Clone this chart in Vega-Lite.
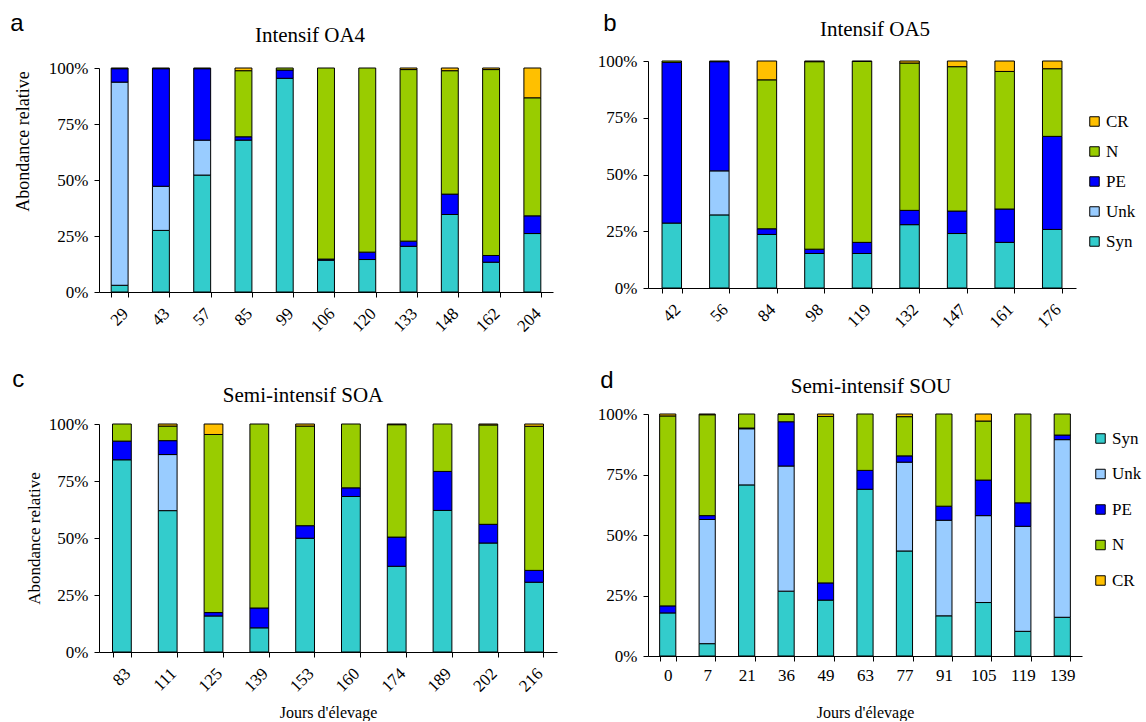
{
  "$schema": "https://vega.github.io/schema/vega-lite/v6.json",
  "background": "white",
  "padding": {"left": 10, "top": 12, "right": 0, "bottom": 0},
  "datasets": {
    "d": [
      {"panel": "a", "day": 29, "group": "Syn", "value": 3},
      {"panel": "a", "day": 29, "group": "Unk", "value": 90.7},
      {"panel": "a", "day": 29, "group": "PE", "value": 6},
      {"panel": "a", "day": 29, "group": "N", "value": 0.3},
      {"panel": "a", "day": 43, "group": "Syn", "value": 27.5},
      {"panel": "a", "day": 43, "group": "Unk", "value": 19.7},
      {"panel": "a", "day": 43, "group": "PE", "value": 52.5},
      {"panel": "a", "day": 43, "group": "N", "value": 0.3},
      {"panel": "a", "day": 57, "group": "Syn", "value": 52.2},
      {"panel": "a", "day": 57, "group": "Unk", "value": 15.6},
      {"panel": "a", "day": 57, "group": "PE", "value": 31.9},
      {"panel": "a", "day": 57, "group": "N", "value": 0.3},
      {"panel": "a", "day": 85, "group": "Syn", "value": 67.8},
      {"panel": "a", "day": 85, "group": "PE", "value": 1.5},
      {"panel": "a", "day": 85, "group": "N", "value": 29.5},
      {"panel": "a", "day": 85, "group": "CR", "value": 1.2},
      {"panel": "a", "day": 99, "group": "Syn", "value": 95.4},
      {"panel": "a", "day": 99, "group": "PE", "value": 3.7},
      {"panel": "a", "day": 99, "group": "N", "value": 0.9},
      {"panel": "a", "day": 106, "group": "Syn", "value": 14.2},
      {"panel": "a", "day": 106, "group": "PE", "value": 0.5},
      {"panel": "a", "day": 106, "group": "N", "value": 85.3},
      {"panel": "a", "day": 120, "group": "Syn", "value": 14.5},
      {"panel": "a", "day": 120, "group": "PE", "value": 3.3},
      {"panel": "a", "day": 120, "group": "N", "value": 82.2},
      {"panel": "a", "day": 133, "group": "Syn", "value": 20.4},
      {"panel": "a", "day": 133, "group": "PE", "value": 2.3},
      {"panel": "a", "day": 133, "group": "N", "value": 76.6},
      {"panel": "a", "day": 133, "group": "CR", "value": 0.7},
      {"panel": "a", "day": 148, "group": "Syn", "value": 34.6},
      {"panel": "a", "day": 148, "group": "PE", "value": 9.1},
      {"panel": "a", "day": 148, "group": "N", "value": 55.1},
      {"panel": "a", "day": 148, "group": "CR", "value": 1.2},
      {"panel": "a", "day": 162, "group": "Syn", "value": 13.3},
      {"panel": "a", "day": 162, "group": "PE", "value": 3.0},
      {"panel": "a", "day": 162, "group": "N", "value": 83.0},
      {"panel": "a", "day": 162, "group": "CR", "value": 0.7},
      {"panel": "a", "day": 204, "group": "Syn", "value": 26.1},
      {"panel": "a", "day": 204, "group": "PE", "value": 7.9},
      {"panel": "a", "day": 204, "group": "N", "value": 52.7},
      {"panel": "a", "day": 204, "group": "CR", "value": 13.3},

      {"panel": "b", "day": 42, "group": "Syn", "value": 28.6},
      {"panel": "b", "day": 42, "group": "PE", "value": 70.8},
      {"panel": "b", "day": 42, "group": "N", "value": 0.6},
      {"panel": "b", "day": 56, "group": "Syn", "value": 32.2},
      {"panel": "b", "day": 56, "group": "Unk", "value": 19.4},
      {"panel": "b", "day": 56, "group": "PE", "value": 48.1},
      {"panel": "b", "day": 56, "group": "N", "value": 0.3},
      {"panel": "b", "day": 84, "group": "Syn", "value": 23.6},
      {"panel": "b", "day": 84, "group": "PE", "value": 2.5},
      {"panel": "b", "day": 84, "group": "N", "value": 65.6},
      {"panel": "b", "day": 84, "group": "CR", "value": 8.3},
      {"panel": "b", "day": 98, "group": "Syn", "value": 15.2},
      {"panel": "b", "day": 98, "group": "PE", "value": 1.9},
      {"panel": "b", "day": 98, "group": "N", "value": 82.6},
      {"panel": "b", "day": 98, "group": "CR", "value": 0.3},
      {"panel": "b", "day": 119, "group": "Syn", "value": 15.2},
      {"panel": "b", "day": 119, "group": "PE", "value": 4.9},
      {"panel": "b", "day": 119, "group": "N", "value": 79.7},
      {"panel": "b", "day": 119, "group": "CR", "value": 0.2},
      {"panel": "b", "day": 132, "group": "Syn", "value": 27.9},
      {"panel": "b", "day": 132, "group": "PE", "value": 6.3},
      {"panel": "b", "day": 132, "group": "N", "value": 64.9},
      {"panel": "b", "day": 132, "group": "CR", "value": 0.9},
      {"panel": "b", "day": 147, "group": "Syn", "value": 24.0},
      {"panel": "b", "day": 147, "group": "PE", "value": 9.9},
      {"panel": "b", "day": 147, "group": "N", "value": 63.6},
      {"panel": "b", "day": 147, "group": "CR", "value": 2.5},
      {"panel": "b", "day": 161, "group": "Syn", "value": 20.1},
      {"panel": "b", "day": 161, "group": "PE", "value": 14.7},
      {"panel": "b", "day": 161, "group": "N", "value": 60.6},
      {"panel": "b", "day": 161, "group": "CR", "value": 4.6},
      {"panel": "b", "day": 176, "group": "Syn", "value": 25.8},
      {"panel": "b", "day": 176, "group": "PE", "value": 41.0},
      {"panel": "b", "day": 176, "group": "N", "value": 29.8},
      {"panel": "b", "day": 176, "group": "CR", "value": 3.4},

      {"panel": "c", "day": 83, "group": "Syn", "value": 84.3},
      {"panel": "c", "day": 83, "group": "PE", "value": 8.2},
      {"panel": "c", "day": 83, "group": "N", "value": 7.5},
      {"panel": "c", "day": 111, "group": "Syn", "value": 62.0},
      {"panel": "c", "day": 111, "group": "Unk", "value": 24.6},
      {"panel": "c", "day": 111, "group": "PE", "value": 6.1},
      {"panel": "c", "day": 111, "group": "N", "value": 6.4},
      {"panel": "c", "day": 111, "group": "CR", "value": 0.9},
      {"panel": "c", "day": 125, "group": "Syn", "value": 15.8},
      {"panel": "c", "day": 125, "group": "PE", "value": 1.5},
      {"panel": "c", "day": 125, "group": "N", "value": 78.1},
      {"panel": "c", "day": 125, "group": "CR", "value": 4.6},
      {"panel": "c", "day": 139, "group": "Syn", "value": 10.6},
      {"panel": "c", "day": 139, "group": "PE", "value": 8.7},
      {"panel": "c", "day": 139, "group": "N", "value": 80.7},
      {"panel": "c", "day": 153, "group": "Syn", "value": 49.9},
      {"panel": "c", "day": 153, "group": "PE", "value": 5.5},
      {"panel": "c", "day": 153, "group": "N", "value": 43.7},
      {"panel": "c", "day": 153, "group": "CR", "value": 0.9},
      {"panel": "c", "day": 160, "group": "Syn", "value": 68.2},
      {"panel": "c", "day": 160, "group": "PE", "value": 3.8},
      {"panel": "c", "day": 160, "group": "N", "value": 28.0},
      {"panel": "c", "day": 174, "group": "Syn", "value": 37.6},
      {"panel": "c", "day": 174, "group": "PE", "value": 12.8},
      {"panel": "c", "day": 174, "group": "N", "value": 49.3},
      {"panel": "c", "day": 174, "group": "CR", "value": 0.3},
      {"panel": "c", "day": 189, "group": "Syn", "value": 62.1},
      {"panel": "c", "day": 189, "group": "PE", "value": 17.1},
      {"panel": "c", "day": 189, "group": "N", "value": 20.8},
      {"panel": "c", "day": 202, "group": "Syn", "value": 47.8},
      {"panel": "c", "day": 202, "group": "PE", "value": 8.2},
      {"panel": "c", "day": 202, "group": "N", "value": 43.6},
      {"panel": "c", "day": 202, "group": "CR", "value": 0.4},
      {"panel": "c", "day": 216, "group": "Syn", "value": 30.6},
      {"panel": "c", "day": 216, "group": "PE", "value": 5.2},
      {"panel": "c", "day": 216, "group": "N", "value": 63.2},
      {"panel": "c", "day": 216, "group": "CR", "value": 1.0},

      {"panel": "d", "day": 0, "group": "Syn", "value": 17.8},
      {"panel": "d", "day": 0, "group": "PE", "value": 2.9},
      {"panel": "d", "day": 0, "group": "N", "value": 78.5},
      {"panel": "d", "day": 0, "group": "CR", "value": 0.8},
      {"panel": "d", "day": 7, "group": "Syn", "value": 5.1},
      {"panel": "d", "day": 7, "group": "Unk", "value": 51.3},
      {"panel": "d", "day": 7, "group": "PE", "value": 1.6},
      {"panel": "d", "day": 7, "group": "N", "value": 41.7},
      {"panel": "d", "day": 7, "group": "CR", "value": 0.3},
      {"panel": "d", "day": 21, "group": "Syn", "value": 70.7},
      {"panel": "d", "day": 21, "group": "Unk", "value": 23.2},
      {"panel": "d", "day": 21, "group": "PE", "value": 0.3},
      {"panel": "d", "day": 21, "group": "N", "value": 5.8},
      {"panel": "d", "day": 36, "group": "Syn", "value": 26.8},
      {"panel": "d", "day": 36, "group": "Unk", "value": 51.7},
      {"panel": "d", "day": 36, "group": "PE", "value": 18.3},
      {"panel": "d", "day": 36, "group": "N", "value": 3.1},
      {"panel": "d", "day": 36, "group": "CR", "value": 0.1},
      {"panel": "d", "day": 49, "group": "Syn", "value": 23.1},
      {"panel": "d", "day": 49, "group": "PE", "value": 7.1},
      {"panel": "d", "day": 49, "group": "N", "value": 68.8},
      {"panel": "d", "day": 49, "group": "CR", "value": 1.0},
      {"panel": "d", "day": 63, "group": "Syn", "value": 68.9},
      {"panel": "d", "day": 63, "group": "PE", "value": 7.8},
      {"panel": "d", "day": 63, "group": "N", "value": 23.3},
      {"panel": "d", "day": 77, "group": "Syn", "value": 43.4},
      {"panel": "d", "day": 77, "group": "Unk", "value": 36.7},
      {"panel": "d", "day": 77, "group": "PE", "value": 2.6},
      {"panel": "d", "day": 77, "group": "N", "value": 16.2},
      {"panel": "d", "day": 77, "group": "CR", "value": 1.1},
      {"panel": "d", "day": 91, "group": "Syn", "value": 16.6},
      {"panel": "d", "day": 91, "group": "Unk", "value": 39.5},
      {"panel": "d", "day": 91, "group": "PE", "value": 5.8},
      {"panel": "d", "day": 91, "group": "N", "value": 38.1},
      {"panel": "d", "day": 105, "group": "Syn", "value": 22.1},
      {"panel": "d", "day": 105, "group": "Unk", "value": 35.9},
      {"panel": "d", "day": 105, "group": "PE", "value": 14.7},
      {"panel": "d", "day": 105, "group": "N", "value": 24.4},
      {"panel": "d", "day": 105, "group": "CR", "value": 2.9},
      {"panel": "d", "day": 119, "group": "Syn", "value": 10.2},
      {"panel": "d", "day": 119, "group": "Unk", "value": 43.4},
      {"panel": "d", "day": 119, "group": "PE", "value": 9.7},
      {"panel": "d", "day": 119, "group": "N", "value": 36.7},
      {"panel": "d", "day": 139, "group": "Syn", "value": 16.0},
      {"panel": "d", "day": 139, "group": "Unk", "value": 73.4},
      {"panel": "d", "day": 139, "group": "PE", "value": 1.9},
      {"panel": "d", "day": 139, "group": "N", "value": 8.7}
    ]
  },
  "config": {
    "view": {"stroke": null},
    "font": "Liberation Serif",
    "title": {"font": "Liberation Serif", "fontSize": 21, "fontWeight": "normal", "color": "black"},
    "axis": {
      "domainColor": "black", "tickColor": "black", "labelColor": "black", "titleColor": "black",
      "labelFont": "Liberation Serif", "titleFont": "Liberation Serif",
      "labelFontSize": 17, "titleFontSize": 17, "titleFontWeight": "normal",
      "grid": false, "tickSize": 5, "labelPadding": 6
    },
    "legend": {
      "labelFont": "Liberation Serif", "labelFontSize": 17, "labelColor": "black",
      "symbolType": "square", "symbolSize": 90, "symbolStrokeColor": "black", "symbolStrokeWidth": 1,
      "padding": 0, "labelOffset": 3
    },
    "bar": {"stroke": "black", "strokeWidth": 1}
  },
  "columns": 2,
  "align": "none",
  "spacing": {"row": 33, "column": 40},
  "resolve": {"scale": {"color": "independent"}, "legend": {"color": "independent"}},
  "concat": [
    {
      "title": {"text": "a", "anchor": "start", "font": "Liberation Sans", "fontSize": 24, "offset": -11, "dx": -4},
      "resolve": {"scale": {"color": "independent"}, "legend": {"color": "independent"}},
      "vconcat": [
        {
          "width": 454, "height": 224,
          "title": {"text": "Intensif OA4", "dx": -16, "offset": 13},
          "data": {"name": "d"},
          "transform": [{"calculate": "indexof(['Syn','Unk','PE','N','CR'], datum.group)", "as": "rank"}, {"filter": "datum.panel == 'a'"}],
          "mark": {"type": "bar"},
          "encoding": {
            "x": {"field": "day", "type": "ordinal", "scale": {"paddingInner": 0.59, "paddingOuter": 0.295},
                  "axis": {"title": null, "labelAngle": -45, "tickBand": "extent", "labelPadding": 8}},
            "y": {"field": "value", "type": "quantitative", "stack": "normalize", "scale": {"domain": [0, 1]},
                  "axis": {"title": "Abondance relative", "titleFontSize": 18, "titleY": 73, "values": [0, 0.25, 0.5, 0.75, 1], "format": ".0%", "titlePadding": 16}},
            "order": {"field": "rank", "type": "quantitative", "sort": "ascending"},
            "color": {"field": "group", "type": "nominal",
                      "scale": {"domain": ["Syn", "Unk", "PE", "N", "CR"], "range": ["#33CCCC", "#99CCFF", "#0000FF", "#99CC00", "#FFC000"]},
                      "legend": null}
          }
        }
      ]
    },
    {
      "title": {"text": "b", "anchor": "start", "font": "Liberation Sans", "fontSize": 24, "offset": -17, "dx": 6},
      "resolve": {"scale": {"color": "independent"}, "legend": {"color": "independent"}},
      "vconcat": [
        {
          "width": 428, "height": 220,
          "title": {"text": "Intensif OA5", "dx": 13, "offset": 12},
          "data": {"name": "d"},
          "transform": [{"calculate": "indexof(['Syn','Unk','PE','N','CR'], datum.group)", "as": "rank"}, {"filter": "datum.panel == 'b'"}],
          "mark": {"type": "bar"},
          "encoding": {
            "x": {"field": "day", "type": "ordinal", "scale": {"paddingInner": 0.59, "paddingOuter": 0.295},
                  "axis": {"title": null, "labelAngle": -45, "tickBand": "extent", "labelPadding": 8}},
            "y": {"field": "value", "type": "quantitative", "stack": "normalize", "scale": {"domain": [0, 1], "range": [220, -7]},
                  "axis": {"title": null, "values": [0, 0.25, 0.5, 0.75, 1], "format": ".0%"}},
            "order": {"field": "rank", "type": "quantitative", "sort": "ascending"},
            "color": {"field": "group", "type": "nominal",
                      "scale": {"domain": ["CR", "N", "PE", "Unk", "Syn"], "range": ["#FFC000", "#99CC00", "#0000FF", "#99CCFF", "#33CCCC"]},
                      "legend": {"title": null, "orient": "none", "legendX": 438, "legendY": 45, "rowPadding": 12}}
          }
        }
      ]
    },
    {
      "title": {"text": "c", "anchor": "start", "font": "Liberation Sans", "fontSize": 24, "offset": -7.5, "dx": -13},
      "resolve": {"scale": {"color": "independent"}, "legend": {"color": "independent"}},
      "vconcat": [
        {
          "width": 458, "height": 228,
          "title": {"text": "Semi-intensif SOA", "dx": -25, "offset": 9.5},
          "data": {"name": "d"},
          "transform": [{"calculate": "indexof(['Syn','Unk','PE','N','CR'], datum.group)", "as": "rank"}, {"filter": "datum.panel == 'c'"}],
          "mark": {"type": "bar"},
          "encoding": {
            "x": {"field": "day", "type": "ordinal", "scale": {"paddingInner": 0.59, "paddingOuter": 0.295},
                  "axis": {"title": "Jours d'élevage", "titleFontSize": 16, "labelAngle": -45, "tickBand": "extent", "labelPadding": 8, "titlePadding": 10}},
            "y": {"field": "value", "type": "quantitative", "stack": "normalize", "scale": {"domain": [0, 1]},
                  "axis": {"title": "Abondance relative", "titleFontSize": 17, "values": [0, 0.25, 0.5, 0.75, 1], "format": ".0%", "titlePadding": 5}},
            "order": {"field": "rank", "type": "quantitative", "sort": "ascending"},
            "color": {"field": "group", "type": "nominal",
                      "scale": {"domain": ["Syn", "Unk", "PE", "N", "CR"], "range": ["#33CCCC", "#99CCFF", "#0000FF", "#99CC00", "#FFC000"]},
                      "legend": null}
          }
        }
      ]
    },
    {
      "title": {"text": "d", "anchor": "start", "font": "Liberation Sans", "fontSize": 24, "offset": -17, "dx": 3},
      "resolve": {"scale": {"color": "independent"}, "legend": {"color": "independent"}},
      "vconcat": [
        {
          "width": 434, "height": 242,
          "title": {"text": "Semi-intensif SOU", "dx": 6, "offset": 8.5},
          "data": {"name": "d"},
          "transform": [{"calculate": "indexof(['Syn','Unk','PE','N','CR'], datum.group)", "as": "rank"}, {"filter": "datum.panel == 'd'"}],
          "mark": {"type": "bar"},
          "encoding": {
            "x": {"field": "day", "type": "ordinal", "scale": {"paddingInner": 0.59, "paddingOuter": 0.295},
                  "axis": {"title": "Jours d'élevage", "titleFontSize": 16, "labelAngle": 0, "tickBand": "extent", "labelPadding": 6, "titlePadding": 21}},
            "y": {"field": "value", "type": "quantitative", "stack": "normalize", "scale": {"domain": [0, 1]},
                  "axis": {"title": null, "values": [0, 0.25, 0.5, 0.75, 1], "format": ".0%"}},
            "order": {"field": "rank", "type": "quantitative", "sort": "ascending"},
            "color": {"field": "group", "type": "nominal",
                      "scale": {"domain": ["Syn", "Unk", "PE", "N", "CR"], "range": ["#33CCCC", "#99CCFF", "#0000FF", "#99CC00", "#FFC000"]},
                      "legend": {"title": null, "orient": "none", "legendX": 444, "legendY": 16, "rowPadding": 17.5}}
          }
        }
      ]
    }
  ]
}
